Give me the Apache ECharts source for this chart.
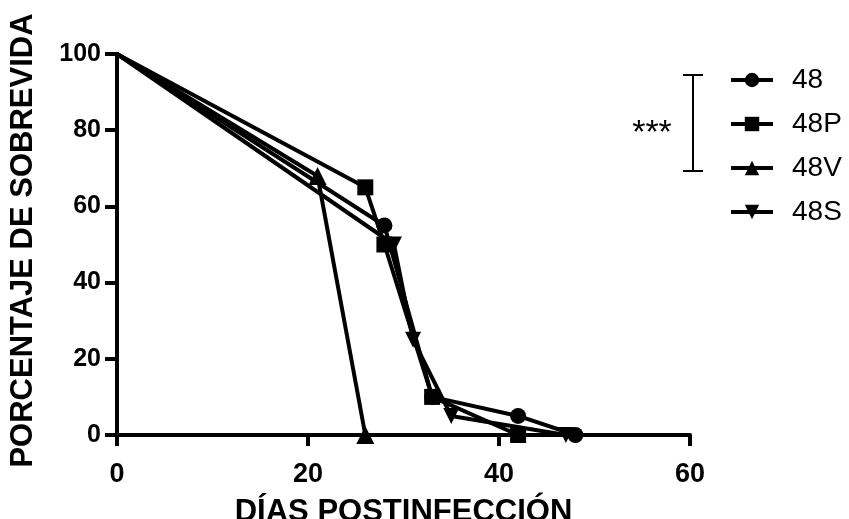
<!DOCTYPE html>
<html><head><meta charset="utf-8">
<script src="https://cdn.jsdelivr.net/npm/echarts@6/dist/echarts.min.js"></script>
<style>html,body{margin:0;padding:0;background:#fff}#c{width:849px;height:519px}</style>
</head><body><div id="c"></div>
<script>
const seriesNames = ['48', '48P', '48V', '48S'];
const seriesSymbols = ['circle', 'rect', 'triangle', 'path://M0,0 L10,0 L5,9 Z'];
const s48  = [[0,100],[28,55],[33,10],[42,5],[48,0]];
const s48P = [[0,100],[26,65],[28,50],[33,10],[42,0]];
const s48V = [[0,100],[21,68],[26,0]];
const s48S = [[0,100],[29,50],[31,25],[35,5],[47,0]];
const seriesData = [s48, s48P, s48V, s48S];
const xTicks = [0, 20, 40, 60];
const yTicks = [0, 20, 40, 60, 80, 100];
const xTitle = 'DÍAS POSTINFECCIÓN';
const yTitle = 'PORCENTAJE DE SOBREVIDA';
const sigLabel = '***';

const FONT = '"Liberation Sans", Arial, sans-serif';
const chart = echarts.init(document.getElementById('c'), null, {renderer: 'canvas'});
const series = seriesNames.map((n, i) => ({
  name: n,
  type: 'line',
  symbol: seriesSymbols[i],
  symbolSize: i === 2 ? 18 : 16,
  lineStyle: {color: '#000', width: 4},
  itemStyle: {color: '#000'},
  data: seriesData[i].map(p => p[0] === 0 ? {value: p, symbol: 'none'} : p),
  animation: false,
  z: 2 + i
}));
function axisBase(tickLen) {
  return {
    axisLine: {show: true, onZero: false, lineStyle: {color: '#000', width: 4}},
    axisTick: {show: true, inside: false, length: tickLen, lineStyle: {color: '#000', width: 4}},
    splitLine: {show: false},
    minorTick: {show: false}
  };
}
const labelStyle = {show: true, color: '#000', fontFamily: FONT, fontWeight: 'bold', fontSize: 25};
chart.setOption({
  animation: false,
  grid: {left: 117, right: 159, top: 54, bottom: 84, containLabel: false, outerBoundsMode: 'none'},
  xAxis: Object.assign(axisBase(11), {
    type: 'value', min: xTicks[0], max: xTicks[xTicks.length-1], interval: xTicks[1]-xTicks[0],
    axisLabel: Object.assign({}, labelStyle, {margin: 26, fontSize: 27}),
    name: xTitle, nameLocation: 'middle', nameGap: 62, nameMoveOverlap: false,
    nameTextStyle: {color: '#000', fontFamily: FONT, fontWeight: 'bold', fontSize: 31}
  }),
  yAxis: Object.assign(axisBase(12), {
    type: 'value', min: yTicks[0], max: yTicks[yTicks.length-1], interval: yTicks[1]-yTicks[0],
    axisLabel: Object.assign({}, labelStyle, {margin: 16}),
    name: yTitle, nameLocation: 'middle', nameGap: 78, nameRotate: 90, nameMoveOverlap: false,
    nameTextStyle: {color: '#000', fontFamily: FONT, fontWeight: 'bold', fontSize: 31, padding: [0, 0, 0, 8]}
  }),
  legend: {
    orient: 'vertical', left: 729, top: 66, padding: 0,
    itemWidth: 42, itemHeight: 18, itemGap: 16,
    lineStyle: {width: 4, color: '#000'},
    textStyle: {color: '#000', fontFamily: FONT, fontSize: 28, lineHeight: 28, padding: [0,0,0,14]},
    data: seriesNames
  },
  graphic: [
    {type: 'line', shape: {x1: 693, y1: 75, x2: 693, y2: 171}, style: {stroke: '#000', lineWidth: 2}},
    {type: 'line', shape: {x1: 683, y1: 75, x2: 703, y2: 75}, style: {stroke: '#000', lineWidth: 2}},
    {type: 'line', shape: {x1: 683, y1: 171, x2: 703, y2: 171}, style: {stroke: '#000', lineWidth: 2}},
    {type: 'text', x: 652, y: 134, style: {text: sigLabel, fill: '#000', font: '34px "Liberation Sans", Arial, sans-serif', textAlign: 'center', textVerticalAlign: 'middle'}}
  ],
  series: series
});
</script></body></html>
